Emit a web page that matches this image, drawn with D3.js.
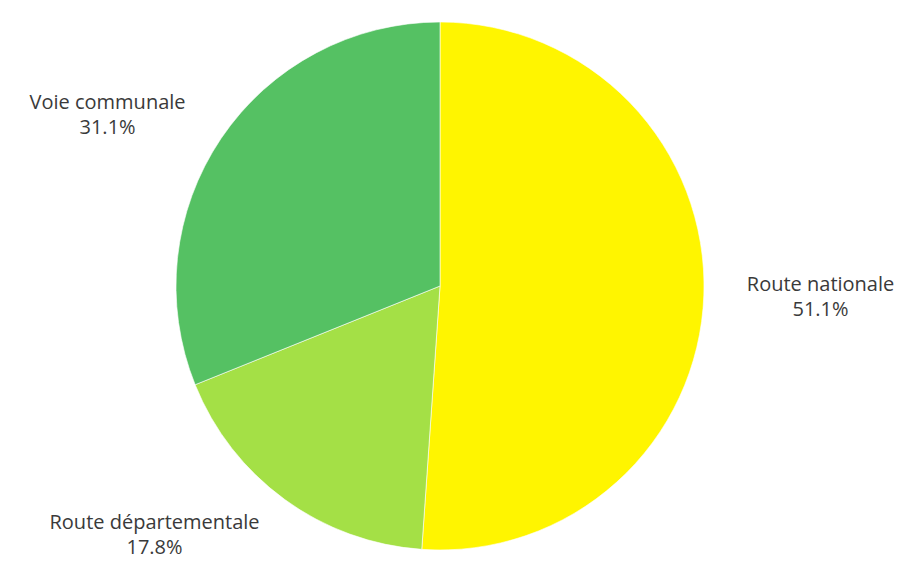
<!DOCTYPE html>
<html><head><meta charset="utf-8">
<script src="https://cdn.jsdelivr.net/npm/d3@7"></script>
<style>html,body{margin:0;padding:0;background:#fff;}</style>
</head><body>
<svg id="chart" width="903" height="577"></svg>
<script>
const categories = ["Route nationale", "Route départementale", "Voie communale"];
const values = [51.1, 17.8, 31.1];
const colors = ["#fff500", "#a4e046", "#55c163"];

const W = 903, H = 577;
const cx = 440, cy = 286, R = 264, LR = 307;
const svg = d3.select("#chart");
const g = svg.append("g").attr("transform", `translate(${cx},${cy})`);

const data = categories.map((c, i) => ({ name: c, value: values[i], color: colors[i] }));
const pie = d3.pie().value(d => d.value).sort(null);
const arc = d3.arc().innerRadius(0).outerRadius(R);
const arcs = pie(data);

g.selectAll("path").data(arcs).join("path")
  .attr("d", arc)
  .attr("fill", d => d.data.color)
  .attr("stroke", "#ffffff")
  .attr("stroke-width", 0.6);

const labelArc = d3.arc().innerRadius(LR).outerRadius(LR);
const fontSize = 20;
arcs.forEach(a => {
  const [lx, ly] = labelArc.centroid(a);
  const mid = (a.startAngle + a.endAngle) / 2;
  const right = Math.sin(mid) > 0;
  const t = g.append("text")
    .attr("font-family", "'Open Sans', sans-serif")
    .attr("font-size", fontSize)
    .attr("fill", "#3a3a3a")
    .attr("text-anchor", "middle");
  const l1 = t.append("tspan").text(a.data.name);
  const l2 = t.append("tspan").text(d3.format(".1f")(a.data.value) + "%");
  const w = Math.max(l1.node().getComputedTextLength(), l2.node().getComputedTextLength());
  const x = right ? lx + w / 2 : lx - w / 2;
  l1.attr("x", x).attr("y", ly - 5.5);
  l2.attr("x", x).attr("y", ly + 19.5);
});
</script>
</body></html>
